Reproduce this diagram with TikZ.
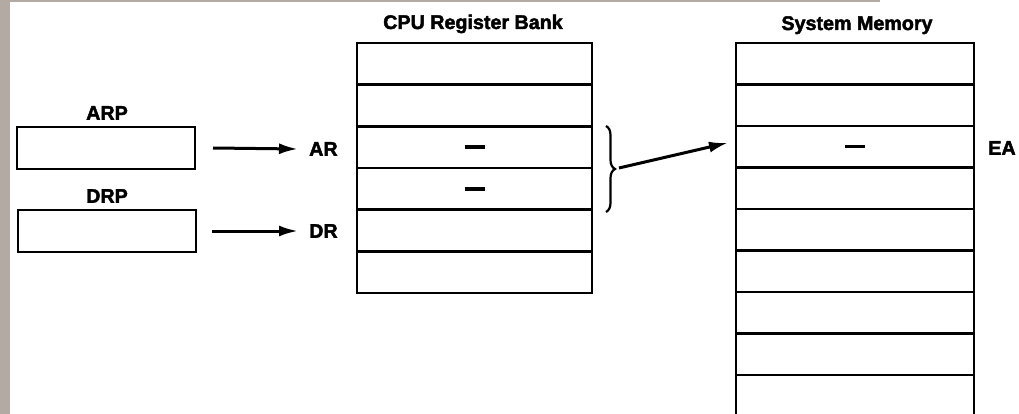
\documentclass[tikz,border=0pt]{standalone}
\usepackage{fontspec}
\setmainfont{Liberation Sans}
\newfontfamily\heavyfont{Liberation Sans Bold}[FakeBold=2.2]
\usetikzlibrary{arrows.meta,decorations.pathreplacing}
\definecolor{pageedge}{HTML}{B3AAA4}
\newcommand{\valdash}{\rule{20pt}{3.5pt}}
\begin{document}
\begin{tikzpicture}[x=1pt,y=-1pt,
  lbl/.style={font=\fontsize{19.7}{22}\heavyfont, inner sep=0pt},
  regbox/.style={draw, line width=2.6pt, minimum width=178pt, minimum height=42pt, inner sep=0pt, outer sep=0pt},
  cpurow/.style={draw, line width=2.4pt, minimum width=235pt, minimum height=41.67pt, inner sep=0pt, outer sep=0pt},
  memrow/.style={draw, line width=2.4pt, minimum width=238pt, minimum height=41.5pt, inner sep=0pt, outer sep=0pt},
  arr/.style={-{Latex[length=19pt,width=11pt]}, line width=3pt},
  edge/.style={fill=pageedge, draw=none}]
\useasboundingbox (0,0) rectangle (1019,414);
\fill[white] (0,0) rectangle (1019,414);
% scanned page edge
\fill[edge] (0,0) rectangle (10,414);
\fill[edge] (0,0) rectangle (880,2.5);

% left registers
\node[regbox] (arp) at (106,148) {};
\node[lbl] (arplbl) at (107,113) {ARP};
\node[regbox] (drp) at (107,231) {};
\node[lbl] (drplbl) at (107,196) {DRP};

\node[lbl, anchor=west] (ar) at (309,149) {AR};
\node[lbl, anchor=west] (dr) at (309,231) {DR};
\draw[arr] ([xshift=18pt]arp.east) -- ([xshift=-11pt]ar.west);
\draw[arr] ([xshift=16pt]drp.east) -- ([xshift=-11pt]dr.west);

% CPU register bank
\node[lbl, anchor=base] (cputitle) at (473,29) {CPU Register Bank};
\foreach \i/\t in {1/,2/,3/\valdash,4/\valdash,5/,6/} {
  \node[cpurow] (c\i) at (474.5,{43+41.67*(\i-0.5)}) {\t};
}

% System memory
\node[lbl, anchor=base] (memtitle) at (857,30) {System Memory};
\foreach \i/\t in {1/,2/,3/\valdash,4/,5/,6/,7/,8/,9/} {
  \node[memrow] (m\i) at (855,{43+41.5*(\i-0.5)}) {\t};
}
\node[lbl] (ea) at (1002,148) {EA};

% brace and arrow
\draw[line width=2.2pt, decorate, decoration={brace, amplitude=9pt}] (606,126) -- (606,212);
\coordinate (tip) at (619,168);
\draw[arr] (tip) -- ([xshift=-8pt, yshift=4pt]m3.west);
\end{tikzpicture}
\end{document}
